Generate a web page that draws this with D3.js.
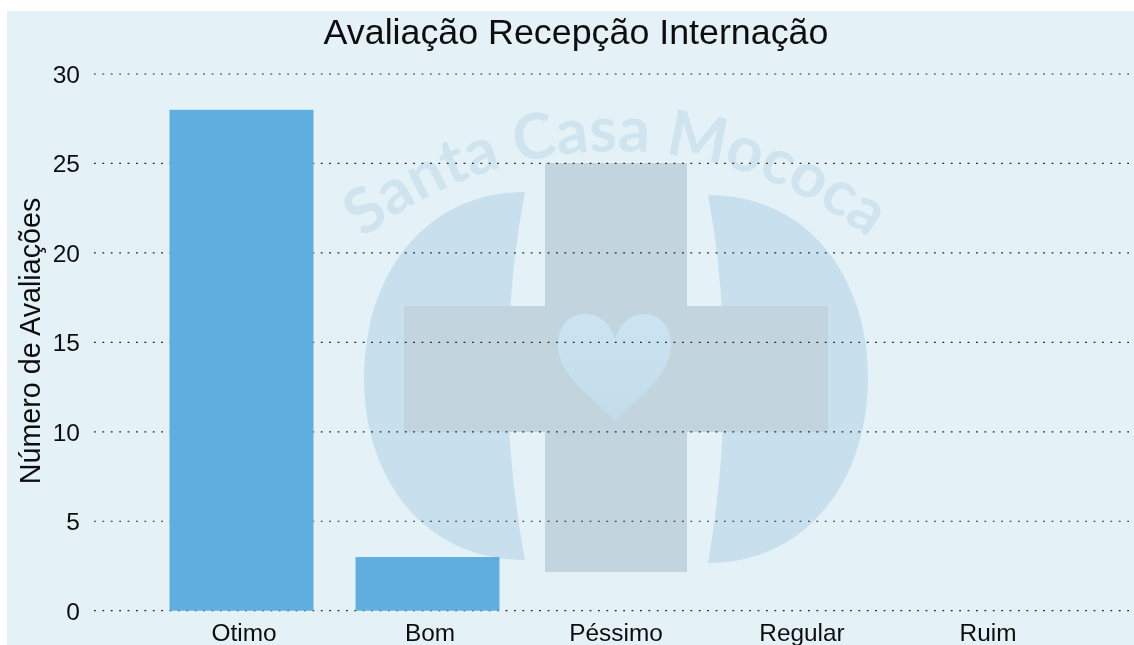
<!DOCTYPE html>
<html><head><meta charset="utf-8">
<script src="https://cdn.jsdelivr.net/npm/d3@7"></script>
<style>
html,body{margin:0;padding:0;background:#fff;overflow:hidden}
svg{display:block}
text{font-family:"Liberation Sans",Arial,sans-serif;fill:#111}
</style></head><body>
<svg id="c" width="1134" height="645"></svg>
<script>
const categories = ["Otimo","Bom","Péssimo","Regular","Ruim"];
const values = [28,3,0,0,0];
const yTicks = [0,5,10,15,20,25,30];
const chartTitle = "Avaliação Recepção Internação";
const yTitle = "Número de Avaliações";
const watermarkText = "Santa Casa Mococa";

const svg = d3.select("#c");
const defs = svg.append("defs");
defs.append("filter").attr("id","soft").attr("filterUnits","userSpaceOnUse")
  .attr("x",0).attr("y",0).attr("width",1134).attr("height",645)
  .append("feGaussianBlur").attr("stdDeviation",0.5);
const grad = defs.append("linearGradient").attr("id","heart").attr("x1",0).attr("y1",0).attr("x2",0).attr("y2",1);
grad.append("stop").attr("offset",0).attr("stop-color","#cbe4f2");
grad.append("stop").attr("offset",1).attr("stop-color","#c3dcea");

svg.append("rect").attr("x",7).attr("y",11).attr("width",1127).attr("height",634).attr("fill","#e4f2f7");
const root = svg.append("g").attr("filter","url(#soft)");

const y = d3.scaleLinear().domain([0,30]).range([610.7,74]);
const x = d3.scaleBand().domain(categories).range([148.5,1078.5]).paddingInner(0.226).paddingOuter(0.113);

// watermark
const wm = root.append("g");
wm.append("path").attr("fill","#c8e0ee").attr("d",
 "M525,192 C425,192 364,275 364,378 C364,480 425,560 525,560 Q508,470 508,378 Q508,280 525,192 Z");
wm.append("path").attr("fill","#c8e0ee").attr("d",
 "M708,195 C807,195 868,275 868,378 C868,480 807,563 708,563 Q724,470 724,378 Q724,280 708,195 Z");
wm.append("path").attr("fill","#c2d4de").attr("d",
 "M545,163 H687 V306 H828 V432 H687 V572 H545 V432 H404 V306 H545 Z");
wm.append("path").attr("fill","url(#heart)").attr("d",
 "M615,421 C590,395 558,375 558,345 C558,325 570,314 585,314 C600,314 612,325 615,340 C618,325 630,314 644,314 C658,314 671,325 671,345 C671,375 640,395 615,421 Z");
defs.append("path").attr("id","arc").attr("d","M340,258 A410,410 0 0 1 892,258");
wm.append("text").attr("font-size",63).attr("font-weight",700).attr("text-anchor","middle").style("font-family","Lato, 'Open Sans', sans-serif").style("fill","#cfe4ef")
  .append("textPath").attr("href","#arc").attr("startOffset","50%").text(watermarkText);

// grid + y axis
const yAxis = d3.axisLeft(y).tickValues(yTicks).tickSize(0).tickPadding(0);
const gy = root.append("g").attr("transform","translate(80,0)").call(yAxis);
gy.select(".domain").remove();
gy.selectAll("text").attr("font-size",24.5).attr("dy","0.34em").style("fill","#111");
root.append("g").selectAll("line").data(yTicks).join("line")
  .attr("x1",94).attr("x2",1134).attr("y1",d=>y(d)).attr("y2",d=>y(d))
  .attr("stroke","#222").attr("stroke-width",1.2).attr("stroke-dasharray","1.8 6.6");

// bars
root.append("g").selectAll("rect").data(values).join("rect")
  .attr("x",(d,i)=>x(categories[i])).attr("width",x.bandwidth())
  .attr("y",d=>y(d)).attr("height",d=>y(0)-y(d))
  .attr("fill","#5eaedf");

// x axis
const xAxis = d3.axisBottom(x).tickSize(0).tickPadding(0);
const gx = root.append("g").attr("transform","translate(2.5,641)").call(xAxis);
gx.select(".domain").remove();
gx.selectAll("text").attr("font-size",24.4).attr("dy",0).style("fill","#111");

// titles
root.append("text").attr("x",576).attr("y",44).attr("text-anchor","middle").attr("font-size",35.8).text(chartTitle);
root.append("text").attr("transform","translate(40,341) rotate(-90)").attr("text-anchor","middle").attr("font-size",28.7).text(yTitle);
</script>
</body></html>
